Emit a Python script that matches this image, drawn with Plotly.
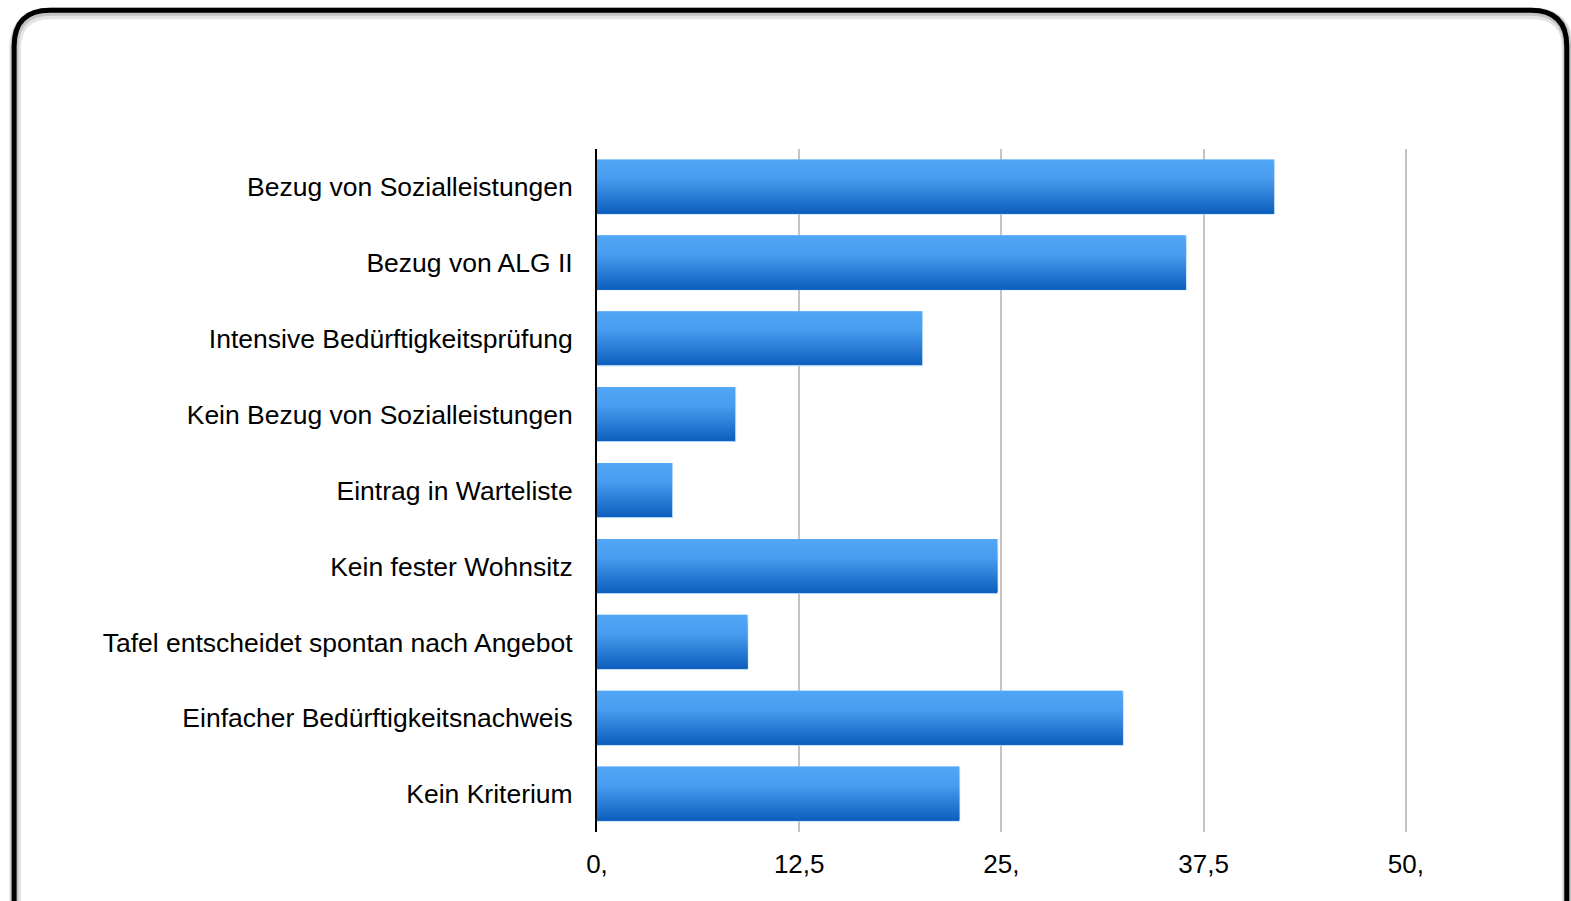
import plotly.graph_objects as go

categories = [
    "Bezug von Sozialleistungen",
    "Bezug von ALG II",
    "Intensive Bedürftigkeitsprüfung",
    "Kein Bezug von Sozialleistungen",
    "Eintrag in Warteliste",
    "Kein fester Wohnsitz",
    "Tafel entscheidet spontan nach Angebot",
    "Einfacher Bedürftigkeitsnachweis",
    "Kein Kriterium",
]
values = [41.9, 36.45, 20.15, 8.6, 4.7, 24.8, 9.35, 32.55, 22.45]
tick_vals = [0, 12.5, 25, 37.5, 50]
tick_text = ["0,", "12,5", "25,", "37,5", "50,"]

W, H = 1571, 901
L, T, B = 596.5, 148.5, 832.5
UNIT = 16.18
X_MAX = 51
R_EDGE = L + X_MAX * UNIT

fig = go.Figure()

top_c = (0x52, 0xA6, 0xF8)
mid_c = (0x49, 0x9C, 0xEF)
bot_c = (0x0E, 0x5E, 0xBE)
N = 30
bar_w = 0.725

def mix(a, b, t):
    return "rgb(%d,%d,%d)" % tuple(round(a[i] + (b[i] - a[i]) * t) for i in range(3))

# light edge layer
fig.add_trace(go.Bar(
    y=categories, x=values, orientation="h", width=bar_w,
    marker=dict(color="#A9D3F7", line=dict(width=0)),
    hoverinfo="skip", showlegend=False,
))
edge = 0.016
inner_w = bar_w - edge
for i in range(N):
    t = (i + 0.5) / N
    if t < 0.35:
        col = mix(top_c, mid_c, t / 0.35)
    else:
        col = mix(mid_c, bot_c, (t - 0.35) / 0.65)
    start = i * inner_w / N
    fig.add_trace(go.Bar(
        y=categories, x=[v - 0.07 for v in values], orientation="h",
        width=inner_w - start,
        offset=-bar_w / 2 + start,
        marker=dict(color=col, line=dict(width=0)),
        hoverinfo="skip", showlegend=False,
    ))

fig.update_layout(
    width=W, height=H,
    margin=dict(l=L, r=W - R_EDGE, t=T, b=H - B, pad=0),
    barmode="overlay",
    plot_bgcolor="white", paper_bgcolor="white",
    font=dict(family="Liberation Sans, Arial, sans-serif", size=26, color="#000000"),
    xaxis=dict(
        range=[0, X_MAX], tickvals=tick_vals, ticktext=tick_text,
        showgrid=True, gridcolor="#C4C4C4", gridwidth=2,
        zeroline=False, showline=False, ticks="",
        tickfont=dict(size=26), ticklabelstandoff=14,
    ),
    yaxis=dict(
        autorange="reversed", showline=True, linecolor="black", linewidth=2,
        ticks="", showgrid=False, tickfont=dict(size=26.5), ticklabelstandoff=17,
    ),
)

PW, PH = R_EDGE - L, B - T

def px(x):
    return (x - L) / PW

def py(y):
    return (B - y) / PH

def frame(dx, dy):
    x0, y0, x1, y1, r = 13.5 + dx, 9.5 + dy, 1566.5 + dx, 960, 36
    return (f"M {px(x0)} {py(y1)} L {px(x0)} {py(y0 + r)} "
            f"Q {px(x0)} {py(y0)} {px(x0 + r)} {py(y0)} "
            f"L {px(x1 - r)} {py(y0)} Q {px(x1)} {py(y0)} {px(x1)} {py(y0 + r)} "
            f"L {px(x1)} {py(y1)}")

fig.add_shape(type="path", xref="paper", yref="paper", path=frame(1, 3),
              line=dict(color="rgba(0,0,0,0.10)", width=12), layer="below")
fig.add_shape(type="path", xref="paper", yref="paper", path=frame(0.5, 1.5),
              line=dict(color="rgba(0,0,0,0.15)", width=8), layer="below")
fig.add_shape(type="path", xref="paper", yref="paper", path=frame(0, 0),
              line=dict(color="black", width=5), layer="above")

fig.write_html(
    "out.html",
    config={"displayModeBar": False},
    post_script="document.body.style.margin='0';document.documentElement.style.overflow='hidden';document.body.style.overflow='hidden';",
)
